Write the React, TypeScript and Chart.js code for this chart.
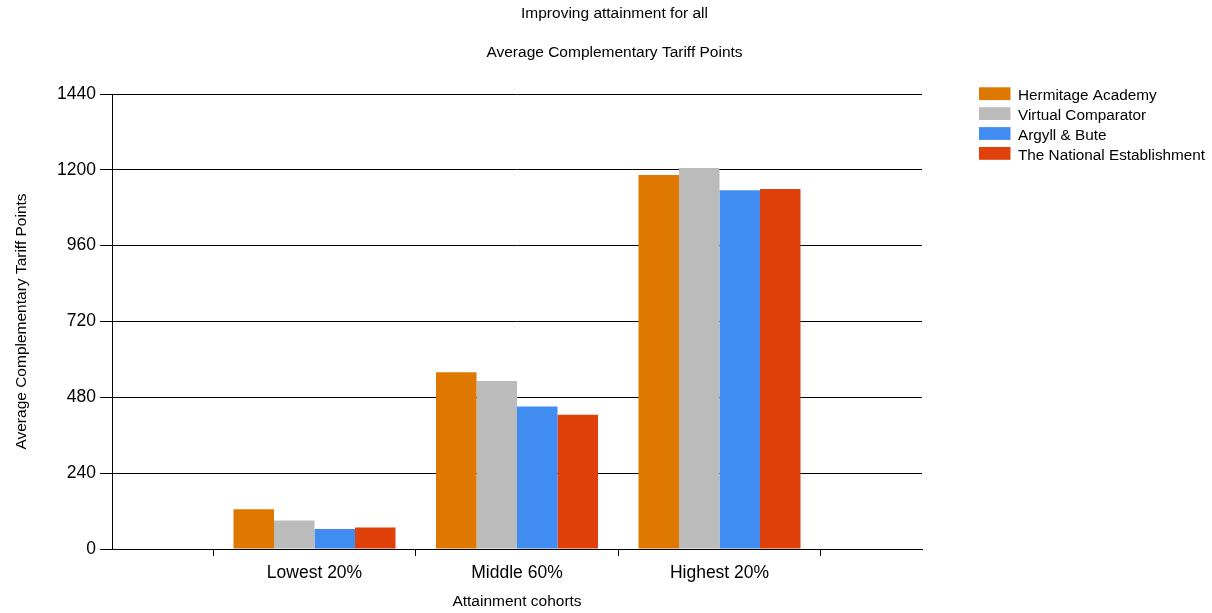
import { useEffect, useRef } from "react";
import { Chart, registerables } from "chart.js";

Chart.register(...registerables);

const categories = ["Lowest 20%", "Middle 60%", "Highest 20%"];
const seriesNames = [
  "Hermitage Academy",
  "Virtual Comparator",
  "Argyll & Bute",
  "The National Establishment",
];
const hermitageAcademy = [126, 559, 1184];
const virtualComparator = [90, 532, 1206];
const argyllBute = [63, 451, 1135];
const nationalEstablishment = [68, 425, 1139];
const seriesColors = ["#DE7800", "#BBBBBB", "#418CF0", "#E0400A"];
const yTickValues = [0, 240, 480, 720, 960, 1200, 1440];
const chartTitle = "Improving attainment for all";
const chartSubtitle = "Average Complementary Tariff Points";
const yAxisTitle = "Average Complementary Tariff Points";
const xAxisTitle = "Attainment cohorts";

const FONT = "'Liberation Sans', Arial, sans-serif";

export default function App() {
  const ref = useRef<HTMLCanvasElement | null>(null);

  useEffect(() => {
    if (!ref.current) return;
    const allSeries = [hermitageAcademy, virtualComparator, argyllBute, nationalEstablishment];

    const overlay = {
      id: "overlay",
      afterDraw(chart: any) {
        const ctx = chart.ctx as CanvasRenderingContext2D;
        ctx.save();
        ctx.fillStyle = "#000";
        ctx.textAlign = "center";
        ctx.textBaseline = "alphabetic";
        ctx.font = `15.5px ${FONT}`;
        ctx.fillText(chartTitle, 614.5, 18.3);
        ctx.fillText(chartSubtitle, 614.5, 56.7);
        // legend
        ctx.textAlign = "left";
        ctx.font = `15.3px ${FONT}`;
        seriesNames.forEach((name, i) => {
          const y = 87.3 + i * 19.9;
          ctx.fillStyle = seriesColors[i];
          ctx.fillRect(979, y, 31.5, 12.8);
          ctx.fillStyle = "#000";
          ctx.fillText(name, 1018, y + 13);
        });
        ctx.restore();
      },
    };

    const chart = new Chart(ref.current, {
      type: "bar",
      data: {
        datasets: seriesNames.map((name, si) => ({
          label: name,
          data: categories.map((_, ci) => ({ x: ci + 1, y: allSeries[si][ci] })),
          backgroundColor: seriesColors[si],
          borderWidth: 0,
          categoryPercentage: 0.8,
          barPercentage: 1.0,
        })),
      },
      options: {
        animation: false,
        responsive: false,
        devicePixelRatio: 1,
        layout: { padding: { left: 0, right: 290, top: 94, bottom: 0 } },
        plugins: {
          legend: { display: false },
          title: { display: false },
          tooltip: { enabled: false },
        },
        scales: {
          x: {
            type: "linear",
            min: 0,
            max: 4,
            offset: false,
            afterBuildTicks: (axis: any) => {
              axis.ticks = [0, 1, 2, 3, 4].map((v) => ({ value: v }));
            },
            afterFit: (axis: any) => {
              axis.height = 64;
            },
            ticks: {
              autoSkip: false,
              maxRotation: 0,
              color: "#000",
              padding: 7,
              font: { size: 17.5, family: FONT },
              callback: (v: any) => categories[Number(v) - 1] ?? "",
            },
            grid: {
              display: true,
              offset: true,
              drawOnChartArea: false,
              drawTicks: true,
              tickLength: 7,
              color: "#000",
              lineWidth: 1,
            },
            border: { display: true, color: "#000", width: 1 },
            title: {
              display: true,
              text: xAxisTitle,
              color: "#000",
              font: { size: 15.5, family: FONT },
              padding: { top: 0, bottom: 2 },
            },
          },
          y: {
            type: "linear",
            min: 0,
            max: 1440,
            afterBuildTicks: (axis: any) => {
              axis.ticks = yTickValues.map((v) => ({ value: v }));
            },
            afterFit: (axis: any) => {
              axis.width = 112;
            },
            ticks: {
              color: "#000",
              padding: 4,
              font: { size: 17.5, family: FONT },
              callback: (v: any) => String(v),
            },
            grid: {
              color: "#000",
              lineWidth: 1,
              drawTicks: true,
              tickLength: 12,
            },
            border: { display: true, color: "#000", width: 1 },
            title: {
              display: true,
              text: yAxisTitle,
              color: "#000",
              font: { size: 15.5, family: FONT },
              padding: { top: 12.6, bottom: 0 },
            },
          },
        },
      },
      plugins: [overlay],
    } as any);

    return () => chart.destroy();
  }, []);

  return (
    <div style={{ position: "absolute", left: 0, top: 0, width: 1212, height: 613, background: "#fff" }}>
      <canvas ref={ref} width={1212} height={613} style={{ width: 1212, height: 613, display: "block" }} />
    </div>
  );
}
